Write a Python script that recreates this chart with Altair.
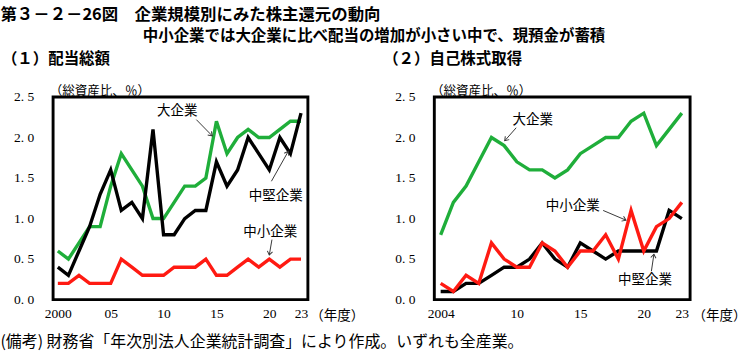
import math
import altair as alt
import pandas as pd

# ---------------- data ----------------
years_div = list(range(2000, 2024))
div_large = [0.6, 0.5, 0.7, 0.9, 0.9, 1.4, 1.8, 1.6, 1.4, 1.0, 1.0, 1.2, 1.4, 1.4, 1.5, 2.2, 1.8, 2.0, 2.1, 2.0, 2.0, 2.1, 2.2, 2.2]
div_mid = [0.4, 0.3, 0.6, 0.9, 1.3, 1.6, 1.1, 1.2, 1.0, 2.1, 0.8, 0.8, 1.0, 1.1, 1.1, 1.7, 1.4, 1.6, 2.0, 1.8, 1.6, 2.0, 1.8, 2.3]
div_small = [0.2, 0.2, 0.3, 0.2, 0.2, 0.2, 0.5, 0.4, 0.3, 0.3, 0.3, 0.4, 0.4, 0.4, 0.5, 0.3, 0.3, 0.4, 0.5, 0.4, 0.5, 0.4, 0.5, 0.5]

years_buy = list(range(2004, 2024))
buy_large = [0.8, 1.2, 1.4, 1.7, 2.0, 1.9, 1.7, 1.6, 1.6, 1.5, 1.6, 1.8, 1.9, 2.0, 2.0, 2.2, 2.3, 1.9, 2.1, 2.3]
buy_mid = [0.1, 0.1, 0.2, 0.2, 0.3, 0.4, 0.4, 0.5, 0.7, 0.5, 0.4, 0.7, 0.6, 0.5, 0.6, 0.6, 0.6, 0.6, 1.1, 1.0]
buy_small = [0.2, 0.1, 0.3, 0.2, 0.7, 0.5, 0.4, 0.4, 0.7, 0.6, 0.4, 0.6, 0.6, 0.8, 0.5, 1.1, 0.6, 0.9, 1.0, 1.2]

series_names = ["大企業", "中堅企業", "中小企業"]
series_colors = ["#1fae3a", "#000000", "#ff1a12"]

left_ticks = [2000, 2005, 2010, 2015, 2020, 2023]
left_tick_labels = ["2000", "05", "10", "15", "20", "23"]
right_ticks = [2004, 2010, 2015, 2020, 2023]
right_tick_labels = ["2004", "10", "15", "20", "23"]
y_ticks = [0.0, 0.5, 1.0, 1.5, 2.0, 2.5]

# annotation labels (data coordinates): name, text x, text y, arrow start x,y, arrow end x,y
left_notes = [
    ("大企業", 2011.3, 2.33, 2013.1, 2.22, 2014.6, 2.02),
    ("中堅企業", 2020.6, 1.28, 2020.2, 1.46, 2021.8, 1.83),
    ("中小企業", 2020.1, 0.83, 2020.25, 0.74, 2020.0, 0.55),
]
right_notes = [
    ("大企業", 2011.25, 2.21, 2009.95, 2.12, 2009.05, 1.96),
    ("中小企業", 2014.4, 1.15, 2016.8, 1.10, 2018.6, 0.98),
    ("中堅企業", 2020.1, 0.24, 2020.6, 0.35, 2020.8, 0.56),
]

TITLE1 = "第３－２－26図　企業規模別にみた株主還元の動向"
TITLE2 = "中小企業では大企業に比べ配当の増加が小さい中で、現預金が蓄積"
PANEL1 = "（１）配当総額"
PANEL2 = "（２）自己株式取得"
UNIT = "（総資産比、％）"
XUNIT = "（年度）"
NOTE = "(備考) 財務省「年次別法人企業統計調査」により作成。いずれも全産業。"

CJK = "Noto Sans CJK JP"
SERIF = "Liberation Serif"

H = 210
Y_DOMAIN = [0, 2.5]


def label_expr(ticks, labels):
    expr = "''"
    for t, l in reversed(list(zip(ticks, labels))):
        expr = f"datum.value == {t} ? '{l}' : ({expr})"
    return expr


def panel(years, large, mid, small, ticks, tick_labels, x_domain, width, notes, title):
    rows = []
    for name, vals in zip(series_names, [large, mid, small]):
        for yr, v in zip(years, vals):
            rows.append({"year": yr, "value": v, "series": name})
    df = pd.DataFrame(rows)

    xscale = alt.Scale(domain=x_domain, nice=False, zero=False)
    yscale = alt.Scale(domain=Y_DOMAIN, nice=False)

    xaxis = alt.Axis(
        values=ticks, labelExpr=label_expr(ticks, tick_labels), ticks=False, domain=False,
        grid=False, labelFont=SERIF, labelFontSize=14, labelColor="#000", labelPadding=8,
        title=XUNIT, titleFont=CJK, titleFontSize=14, titleFontWeight="normal", titleColor="#000",
        titleAngle=0, titleAlign="left", titleBaseline="alphabetic",
        titleX=width + 2, titleY=21, labelFlush=False, labelOverlap=False,
    )
    yaxis = alt.Axis(
        values=y_ticks, labelExpr="replace(format(datum.value, '.1f'), '.', '. ')",
        ticks=False, domain=False, grid=False, labelFont=SERIF, labelFontSize=14,
        labelColor="#000", labelPadding=20,
        title=UNIT, titleFont=CJK, titleFontSize=13, titleFontWeight="normal", titleColor="#000",
        titleAngle=0, titleAlign="left", titleBaseline="alphabetic", titleX=-4, titleY=-3,
    )

    base = alt.Chart(df)
    lines = []
    for name, color in zip(series_names, series_colors):
        lines.append(
            base.transform_filter(alt.datum.series == name)
            .mark_line(color=color, strokeWidth=3.5, strokeJoin="miter", strokeMiterLimit=4)
            .encode(
                x=alt.X("year:Q", scale=xscale, axis=xaxis),
                y=alt.Y("value:Q", scale=yscale, axis=yaxis),
            )
        )
    layers = [lines[0], lines[1], lines[2]]

    px_per_x = width / (x_domain[1] - x_domain[0])
    px_per_y = H / (Y_DOMAIN[1] - Y_DOMAIN[0])
    nrows = []
    for name, tx, ty, x1, y1, x2, y2 in notes:
        ang = math.degrees(math.atan2(-(y2 - y1) * px_per_y, (x2 - x1) * px_per_x)) % 360
        nrows.append({"label": name, "tx": tx, "ty": ty, "x1": x1, "y1": y1,
                      "x2": x2, "y2": y2, "angle": ang})
    ndf = pd.DataFrame(nrows)
    nb = alt.Chart(ndf)
    texts = nb.mark_text(font=CJK, fontSize=14, color="#000", align="center", baseline="middle").encode(
        x=alt.X("tx:Q", scale=xscale), y=alt.Y("ty:Q", scale=yscale), text="label:N")
    arrows = nb.mark_rule(color="#333", strokeWidth=1).encode(
        x=alt.X("x1:Q", scale=xscale), y=alt.Y("y1:Q", scale=yscale),
        x2="x2:Q", y2="y2:Q")
    heads = nb.mark_point(shape="M-1,-0.7L0,0L-1,0.7", filled=False, stroke="#333",
                          strokeWidth=1, size=60, opacity=1).encode(
        x=alt.X("x2:Q", scale=xscale), y=alt.Y("y2:Q", scale=yscale),
        angle=alt.Angle("angle:Q", scale=None))

    return alt.layer(*layers, arrows, heads, texts).properties(
        width=width, height=H,
        title=alt.TitleParams(title, anchor="start", frame="group", dx=-53, offset=18,
                              font=CJK, fontSize=16, fontWeight="bold", color="#000"),
    )


left = panel(years_div, div_large, div_mid, div_small, left_ticks, left_tick_labels,
             [1999.55, 2023.65], 264, left_notes, PANEL1)
right = panel(years_buy, buy_large, buy_mid, buy_small, right_ticks, right_tick_labels,
              [2003.5, 2023.65], 265, right_notes, PANEL2)

l3 = alt.hconcat(left, right, spacing=16).properties(
    title=alt.TitleParams(NOTE, orient="bottom", anchor="start", font=CJK, fontSize=16.5,
                          fontWeight="normal", color="#000", offset=11))
l2 = alt.vconcat(l3).properties(
    title=alt.TitleParams(TITLE2, anchor="middle", font=CJK, fontSize=16, fontWeight="bold",
                          color="#000", offset=6))
chart = alt.vconcat(l2).properties(
    title=alt.TitleParams(TITLE1, anchor="start", font=CJK, fontSize=17, fontWeight="bold",
                          color="#000", offset=5),
    padding={"left": 0, "top": 0, "right": 0, "bottom": 0},
).configure_view(stroke="#000", strokeWidth=3).configure_concat(spacing=0)

chart.save("out.html", embed_options={"renderer": "svg", "actions": False})
